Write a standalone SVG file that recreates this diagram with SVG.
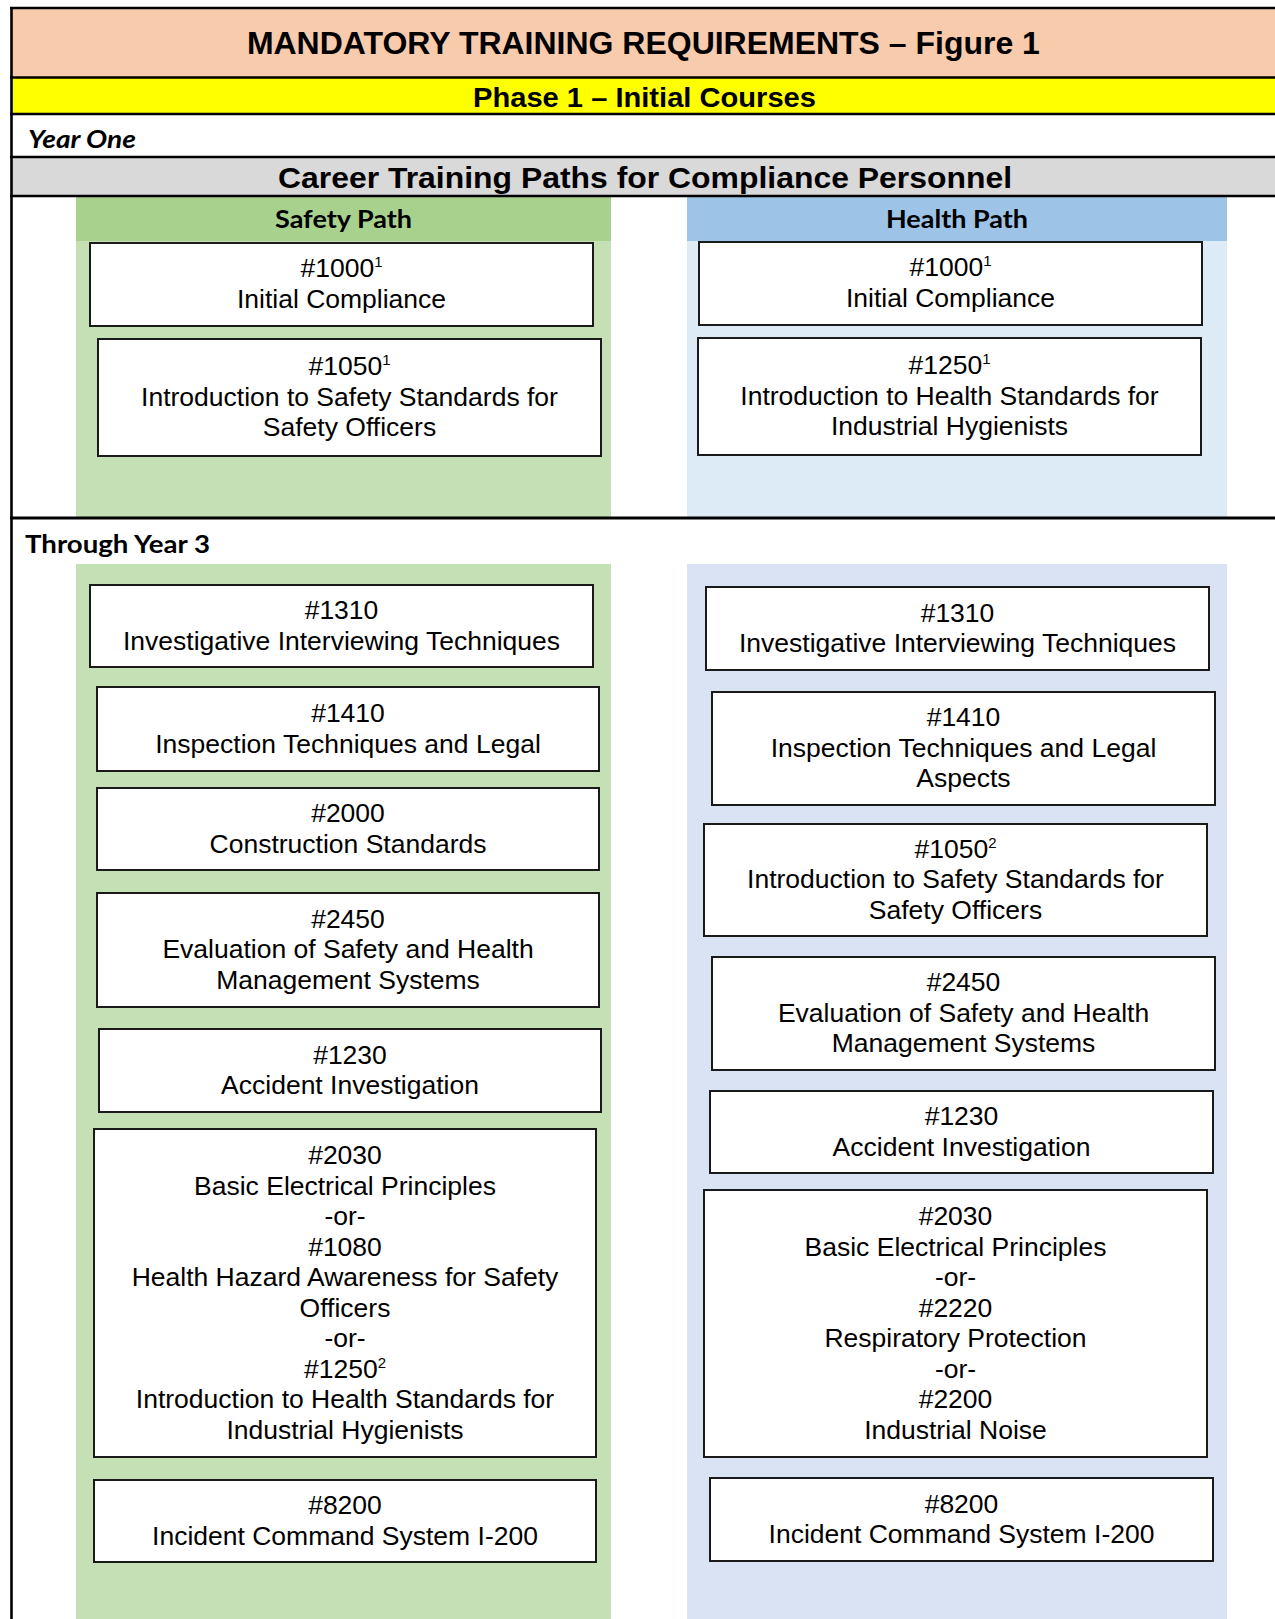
<svg xmlns="http://www.w3.org/2000/svg" width="1275" height="1619" viewBox="0 0 1275 1619">
<style>
.box{fill:#fff;stroke:#1a1a1a;stroke-width:2}
.t{font-family:"Liberation Sans",Arial,sans-serif;font-size:26.5px;fill:#000;text-anchor:middle}
.sup{font-size:15px}
.rule{stroke:#000;stroke-width:2.6;fill:none}
.hd{font-family:"Liberation Sans",Arial,sans-serif;font-weight:bold;text-anchor:middle;fill:#000}
.cal{font-family:Lato,"Open Sans",sans-serif;font-weight:bold;fill:#000}
</style>
<rect width="1275" height="1619" fill="#fff"/>
<g id="bands">
<rect x="11" y="8" width="1264" height="70" fill="#F8CBAD"/>
<rect x="11" y="78" width="1264" height="36" fill="#FFFF00"/>
<rect x="11" y="157" width="1264" height="39" fill="#D9D9D9"/>
<rect x="76" y="196" width="535" height="45" fill="#A9D18E"/>
<rect x="76" y="241" width="535" height="276" fill="#C5E0B4"/>
<rect x="76" y="564" width="535" height="1055" fill="#C5E0B4"/>
<rect x="687" y="196" width="540" height="45" fill="#9DC3E6"/>
<rect x="687" y="241" width="540" height="276" fill="#DDEBF7"/>
<rect x="687" y="564" width="540" height="1055" fill="#DAE3F3"/>
</g>
<g id="rules">
<line class="rule" x1="10" y1="8" x2="1275" y2="8"/>
<line class="rule" x1="10" y1="77.5" x2="1275" y2="77.5"/>
<line class="rule" x1="10" y1="114" x2="1275" y2="114"/>
<line class="rule" x1="10" y1="157" x2="1275" y2="157"/>
<line class="rule" x1="10" y1="196" x2="1275" y2="196"/>
<line class="rule" x1="10" y1="518" x2="1275" y2="518" style="stroke-width:3"/>
<line class="rule" x1="11.5" y1="7" x2="11.5" y2="1619"/>
</g>
<g id="headings">
<text class="hd" x="643.4" y="54" font-size="31" textLength="793" lengthAdjust="spacingAndGlyphs">MANDATORY TRAINING REQUIREMENTS – Figure 1</text>
<text class="hd" x="644.5" y="106.5" font-size="28.5" textLength="343" lengthAdjust="spacingAndGlyphs">Phase 1 – Initial Courses</text>
<text class="cal" x="28" y="148" font-size="24" font-style="italic" textLength="108" lengthAdjust="spacingAndGlyphs">Year One</text>
<text class="hd" x="645" y="187.5" font-size="29.5" textLength="734" lengthAdjust="spacingAndGlyphs">Career Training Paths for Compliance Personnel</text>
<text class="cal" x="343.5" y="228.3" font-size="25.5" text-anchor="middle" textLength="137" lengthAdjust="spacingAndGlyphs">Safety Path</text>
<text class="cal" x="957" y="228.3" font-size="25.5" text-anchor="middle" textLength="142" lengthAdjust="spacingAndGlyphs">Health Path</text>
<text class="cal" x="25" y="552.7" font-size="24.7" textLength="185" lengthAdjust="spacingAndGlyphs">Through Year 3</text>
</g>
<g id="connectors"/>
<g id="safety-1000">
<rect class="box" x="90" y="243" width="503" height="83"/>
<text class="t" x="341.5" y="277">#1000<tspan class="sup" dy="-10">1</tspan></text>
<text class="t" x="341.5" y="308">Initial Compliance</text>
</g>
<g id="safety-1050">
<rect class="box" x="98" y="339" width="503" height="117"/>
<text class="t" x="349.5" y="375">#1050<tspan class="sup" dy="-10">1</tspan></text>
<text class="t" x="349.5" y="405.5">Introduction to Safety Standards for</text>
<text class="t" x="349.5" y="436">Safety Officers</text>
</g>
<g id="health-1000">
<rect class="box" x="699" y="242" width="503" height="83"/>
<text class="t" x="950.5" y="276">#1000<tspan class="sup" dy="-10">1</tspan></text>
<text class="t" x="950.5" y="307">Initial Compliance</text>
</g>
<g id="health-1250">
<rect class="box" x="698" y="338" width="503" height="117"/>
<text class="t" x="949.5" y="374">#1250<tspan class="sup" dy="-10">1</tspan></text>
<text class="t" x="949.5" y="404.5">Introduction to Health Standards for</text>
<text class="t" x="949.5" y="435">Industrial Hygienists</text>
</g>
<g id="safety-1310">
<rect class="box" x="90" y="585" width="503" height="82"/>
<text class="t" x="341.5" y="619">#1310</text>
<text class="t" x="341.5" y="649.5">Investigative Interviewing Techniques</text>
</g>
<g id="safety-1410">
<rect class="box" x="97" y="687" width="502" height="84"/>
<text class="t" x="348" y="722">#1410</text>
<text class="t" x="348" y="752.5">Inspection Techniques and Legal</text>
</g>
<g id="safety-2000">
<rect class="box" x="97" y="788" width="502" height="82"/>
<text class="t" x="348" y="822">#2000</text>
<text class="t" x="348" y="852.5">Construction Standards</text>
</g>
<g id="safety-2450">
<rect class="box" x="97" y="893" width="502" height="114"/>
<text class="t" x="348" y="927.5">#2450</text>
<text class="t" x="348" y="958">Evaluation of Safety and Health</text>
<text class="t" x="348" y="988.5">Management Systems</text>
</g>
<g id="safety-1230">
<rect class="box" x="99" y="1029" width="502" height="83"/>
<text class="t" x="350" y="1063.5">#1230</text>
<text class="t" x="350" y="1094">Accident Investigation</text>
</g>
<g id="safety-2030">
<rect class="box" x="94" y="1129" width="502" height="328"/>
<text class="t" x="345" y="1164">#2030</text>
<text class="t" x="345" y="1194.5">Basic Electrical Principles</text>
<text class="t" x="345" y="1225">-or-</text>
<text class="t" x="345" y="1255.5">#1080</text>
<text class="t" x="345" y="1286">Health Hazard Awareness for Safety</text>
<text class="t" x="345" y="1316.5">Officers</text>
<text class="t" x="345" y="1347">-or-</text>
<text class="t" x="345" y="1377.5">#1250<tspan class="sup" dy="-10">2</tspan></text>
<text class="t" x="345" y="1408">Introduction to Health Standards for</text>
<text class="t" x="345" y="1438.5">Industrial Hygienists</text>
</g>
<g id="safety-8200">
<rect class="box" x="94" y="1480" width="502" height="82"/>
<text class="t" x="345" y="1514">#8200</text>
<text class="t" x="345" y="1544.5">Incident Command System I-200</text>
</g>
<g id="health-1310">
<rect class="box" x="706" y="587" width="503" height="83"/>
<text class="t" x="957.5" y="621.5">#1310</text>
<text class="t" x="957.5" y="652">Investigative Interviewing Techniques</text>
</g>
<g id="health-1410">
<rect class="box" x="712" y="692" width="503" height="113"/>
<text class="t" x="963.5" y="726">#1410</text>
<text class="t" x="963.5" y="756.5">Inspection Techniques and Legal</text>
<text class="t" x="963.5" y="787">Aspects</text>
</g>
<g id="health-1050">
<rect class="box" x="704" y="824" width="503" height="112"/>
<text class="t" x="955.5" y="857.5">#1050<tspan class="sup" dy="-10">2</tspan></text>
<text class="t" x="955.5" y="888">Introduction to Safety Standards for</text>
<text class="t" x="955.5" y="918.5">Safety Officers</text>
</g>
<g id="health-2450">
<rect class="box" x="712" y="957" width="503" height="113"/>
<text class="t" x="963.5" y="991">#2450</text>
<text class="t" x="963.5" y="1021.5">Evaluation of Safety and Health</text>
<text class="t" x="963.5" y="1052">Management Systems</text>
</g>
<g id="health-1230">
<rect class="box" x="710" y="1091" width="503" height="82"/>
<text class="t" x="961.5" y="1125">#1230</text>
<text class="t" x="961.5" y="1155.5">Accident Investigation</text>
</g>
<g id="health-2030">
<rect class="box" x="704" y="1190" width="503" height="267"/>
<text class="t" x="955.5" y="1225">#2030</text>
<text class="t" x="955.5" y="1255.5">Basic Electrical Principles</text>
<text class="t" x="955.5" y="1286">-or-</text>
<text class="t" x="955.5" y="1316.5">#2220</text>
<text class="t" x="955.5" y="1347">Respiratory Protection</text>
<text class="t" x="955.5" y="1377.5">-or-</text>
<text class="t" x="955.5" y="1408">#2200</text>
<text class="t" x="955.5" y="1438.5">Industrial Noise</text>
</g>
<g id="health-8200">
<rect class="box" x="710" y="1478" width="503" height="83"/>
<text class="t" x="961.5" y="1512.5">#8200</text>
<text class="t" x="961.5" y="1543">Incident Command System I-200</text>
</g>
</svg>
